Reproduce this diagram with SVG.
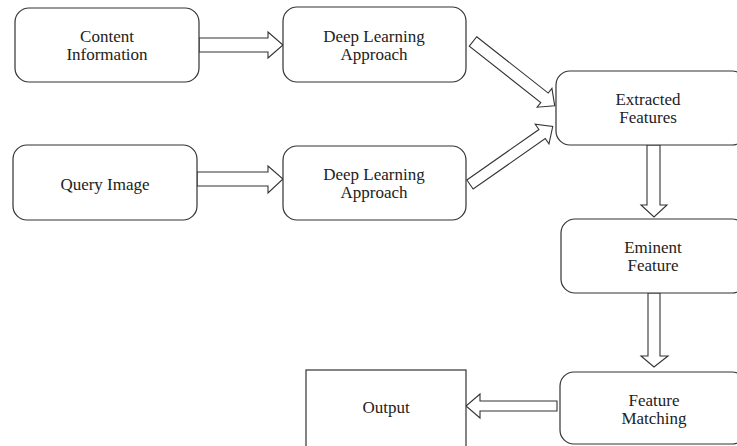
<svg xmlns="http://www.w3.org/2000/svg" width="737" height="446" viewBox="0 0 737 446">
<style>
.box{fill:#fff;stroke:#333;stroke-width:1.2}
.arr{fill:#fff;stroke:#333;stroke-width:1.1;stroke-linejoin:miter}
.t{font-family:'Liberation Serif','Times New Roman','DejaVu Serif',serif;font-size:17px;fill:#222;text-anchor:middle}
</style>
<rect width="737" height="446" fill="#fff"/>
<g id="connectors">
<polygon class="arr" points="199,38 268,38 268,32 283,45 268,58 268,52 199,52"/>
<polygon class="arr" points="197,172 268,172 268,166 283,179 268,193 268,186 197,186"/>
<polygon class="arr" transform="translate(473,41.5) rotate(38.2)" points="0,-6 91,-6 91,-12 104,0 91,12 91,6 0,6"/>
<polygon class="arr" transform="translate(470,184.5) rotate(-35)" points="0,-5.5 88,-5.5 88,-12 101,0 88,12 88,5.5 0,5.5"/>
<polygon class="arr" points="647,145 660,145 660,205 667,205 654,217 641,205 647,205"/>
<polygon class="arr" points="648,293 660,293 660,356 668,356 654,367 641,356 648,356"/>
<polygon class="arr" points="557,401 480,401 480,394 466,406 480,418 480,411 557,411"/>
</g>
<g id="content-information">
<rect class="box" x="15" y="8" width="184" height="74" rx="14"/>
<text class="t" x="107" y="41.5">Content</text>
<text class="t" x="107" y="59.5">Information</text>
</g>
<g id="deep-learning-1">
<rect class="box" x="283" y="7" width="183" height="75" rx="14"/>
<text class="t" x="374" y="42">Deep Learning</text>
<text class="t" x="374" y="60">Approach</text>
</g>
<g id="query-image">
<rect class="box" x="13" y="145" width="184" height="75" rx="14"/>
<text class="t" x="105" y="190">Query Image</text>
</g>
<g id="deep-learning-2">
<rect class="box" x="283" y="146" width="183" height="74" rx="14"/>
<text class="t" x="374" y="180">Deep Learning</text>
<text class="t" x="374" y="198">Approach</text>
</g>
<g id="extracted-features">
<rect class="box" x="556" y="71" width="190" height="74" rx="14"/>
<text class="t" x="648" y="105">Extracted</text>
<text class="t" x="648" y="123">Features</text>
</g>
<g id="eminent-feature">
<rect class="box" x="561" y="219" width="185" height="74" rx="14"/>
<text class="t" x="653" y="252.5">Eminent</text>
<text class="t" x="653" y="270.5">Feature</text>
</g>
<g id="feature-matching">
<rect class="box" x="560" y="372" width="186" height="72" rx="14"/>
<text class="t" x="654" y="405.5">Feature</text>
<text class="t" x="654" y="423.5">Matching</text>
</g>
<g id="output">
<rect class="box" x="306" y="370" width="160" height="90"/>
<text class="t" x="386" y="413">Output</text>
</g>
</svg>
